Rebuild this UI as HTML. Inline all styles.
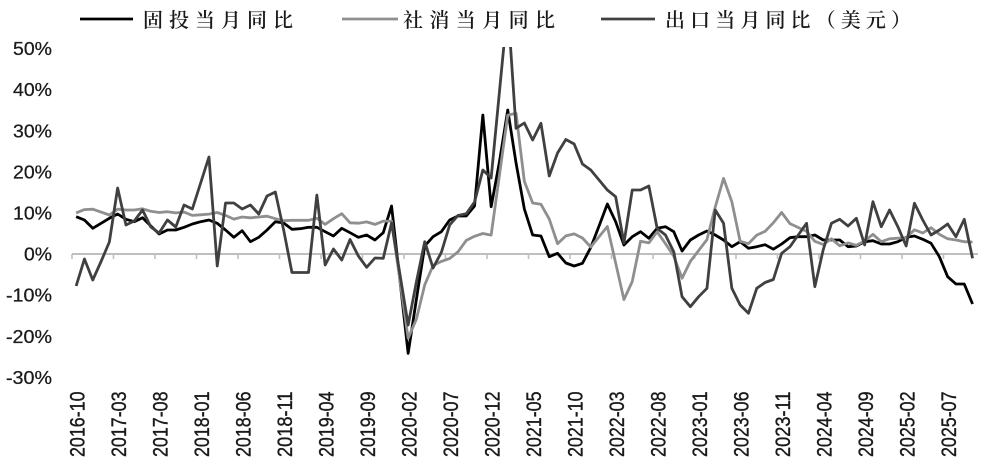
<!DOCTYPE html>
<html><head><meta charset="utf-8"><style>
html,body{margin:0;padding:0;background:#fff;}
svg{display:block;}
.yl{font-family:"Liberation Sans",sans-serif;font-size:18.5px;fill:#1a1a1a;text-anchor:end;stroke:#1a1a1a;stroke-width:0.25;}
.xl{font-family:"Liberation Sans",sans-serif;font-size:20px;fill:#1a1a1a;text-anchor:end;stroke:#1a1a1a;stroke-width:0.35;}
.lg{font-family:"Liberation Serif","Noto Serif CJK SC",serif;font-size:20px;fill:#1a1a1a;font-weight:600;}
.s{fill:none;stroke-width:2.8;stroke-linejoin:round;stroke-linecap:butt;vector-effect:non-scaling-stroke;}
</style></head><body>
<svg width="987" height="472" viewBox="0 0 987 472" xmlns="http://www.w3.org/2000/svg">
<defs><clipPath id="c"><rect x="60" y="47" width="927" height="425"/></clipPath></defs>
<!-- legend -->
<line x1="80" y1="19" x2="133" y2="19" stroke="#000" stroke-width="2.8"/>
<text class="lg" x="143" y="27" textLength="150" lengthAdjust="spacing">固投当月同比</text>
<line x1="342" y1="19" x2="398" y2="19" stroke="#8f8f8f" stroke-width="2.8"/>
<text class="lg" x="403" y="27" textLength="152" lengthAdjust="spacing">社消当月同比</text>
<line x1="601" y1="19" x2="655" y2="19" stroke="#404040" stroke-width="2.8"/>
<text class="lg" x="665" y="27" textLength="246" lengthAdjust="spacing">出口当月同比（美元）</text>
<!-- y labels -->
<text class="yl" x="52" y="55.1" textLength="39" lengthAdjust="spacingAndGlyphs">50%</text>
<text class="yl" x="52" y="96.2" textLength="39" lengthAdjust="spacingAndGlyphs">40%</text>
<text class="yl" x="52" y="137.3" textLength="39" lengthAdjust="spacingAndGlyphs">30%</text>
<text class="yl" x="52" y="178.4" textLength="39" lengthAdjust="spacingAndGlyphs">20%</text>
<text class="yl" x="52" y="219.5" textLength="39" lengthAdjust="spacingAndGlyphs">10%</text>
<text class="yl" x="52" y="260.6" textLength="28" lengthAdjust="spacingAndGlyphs">0%</text>
<text class="yl" x="52" y="301.7" textLength="46" lengthAdjust="spacingAndGlyphs">-10%</text>
<text class="yl" x="52" y="342.8" textLength="46" lengthAdjust="spacingAndGlyphs">-20%</text>
<text class="yl" x="52" y="383.9" textLength="46" lengthAdjust="spacingAndGlyphs">-30%</text>
<!-- axis -->
<line x1="72" y1="254" x2="978" y2="254" stroke="#bfbfbf" stroke-width="2"/>
<g stroke="#bfbfbf" stroke-width="1.6">
<line x1="72" y1="254" x2="72" y2="259"/><line x1="113.5" y1="254" x2="113.5" y2="259"/><line x1="155" y1="254" x2="155" y2="259"/><line x1="196.5" y1="254" x2="196.5" y2="259"/><line x1="238" y1="254" x2="238" y2="259"/><line x1="279.5" y1="254" x2="279.5" y2="259"/><line x1="321" y1="254" x2="321" y2="259"/><line x1="362.5" y1="254" x2="362.5" y2="259"/><line x1="404" y1="254" x2="404" y2="259"/><line x1="445.5" y1="254" x2="445.5" y2="259"/><line x1="487" y1="254" x2="487" y2="259"/><line x1="528.5" y1="254" x2="528.5" y2="259"/><line x1="570" y1="254" x2="570" y2="259"/><line x1="611.5" y1="254" x2="611.5" y2="259"/><line x1="653" y1="254" x2="653" y2="259"/><line x1="694.5" y1="254" x2="694.5" y2="259"/><line x1="736" y1="254" x2="736" y2="259"/><line x1="777.5" y1="254" x2="777.5" y2="259"/><line x1="819" y1="254" x2="819" y2="259"/><line x1="860.5" y1="254" x2="860.5" y2="259"/><line x1="902" y1="254" x2="902" y2="259"/><line x1="943.5" y1="254" x2="943.5" y2="259"/>
</g>
<!-- x labels -->
<g>
<text class="xl" transform="translate(84.6,391.5) rotate(-90) scale(1,1.05)" textLength="65.5" lengthAdjust="spacingAndGlyphs">2016-10</text>
<text class="xl" transform="translate(126.1,391.5) rotate(-90) scale(1,1.05)" textLength="65.5" lengthAdjust="spacingAndGlyphs">2017-03</text>
<text class="xl" transform="translate(167.6,391.5) rotate(-90) scale(1,1.05)" textLength="65.5" lengthAdjust="spacingAndGlyphs">2017-08</text>
<text class="xl" transform="translate(209.1,391.5) rotate(-90) scale(1,1.05)" textLength="65.5" lengthAdjust="spacingAndGlyphs">2018-01</text>
<text class="xl" transform="translate(250.6,391.5) rotate(-90) scale(1,1.05)" textLength="65.5" lengthAdjust="spacingAndGlyphs">2018-06</text>
<text class="xl" transform="translate(292.1,391.5) rotate(-90) scale(1,1.05)" textLength="65.5" lengthAdjust="spacingAndGlyphs">2018-11</text>
<text class="xl" transform="translate(333.6,391.5) rotate(-90) scale(1,1.05)" textLength="65.5" lengthAdjust="spacingAndGlyphs">2019-04</text>
<text class="xl" transform="translate(375.1,391.5) rotate(-90) scale(1,1.05)" textLength="65.5" lengthAdjust="spacingAndGlyphs">2019-09</text>
<text class="xl" transform="translate(416.6,391.5) rotate(-90) scale(1,1.05)" textLength="65.5" lengthAdjust="spacingAndGlyphs">2020-02</text>
<text class="xl" transform="translate(458.1,391.5) rotate(-90) scale(1,1.05)" textLength="65.5" lengthAdjust="spacingAndGlyphs">2020-07</text>
<text class="xl" transform="translate(499.6,391.5) rotate(-90) scale(1,1.05)" textLength="65.5" lengthAdjust="spacingAndGlyphs">2020-12</text>
<text class="xl" transform="translate(541.1,391.5) rotate(-90) scale(1,1.05)" textLength="65.5" lengthAdjust="spacingAndGlyphs">2021-05</text>
<text class="xl" transform="translate(582.6,391.5) rotate(-90) scale(1,1.05)" textLength="65.5" lengthAdjust="spacingAndGlyphs">2021-10</text>
<text class="xl" transform="translate(624.1,391.5) rotate(-90) scale(1,1.05)" textLength="65.5" lengthAdjust="spacingAndGlyphs">2022-03</text>
<text class="xl" transform="translate(665.6,391.5) rotate(-90) scale(1,1.05)" textLength="65.5" lengthAdjust="spacingAndGlyphs">2022-08</text>
<text class="xl" transform="translate(707.1,391.5) rotate(-90) scale(1,1.05)" textLength="65.5" lengthAdjust="spacingAndGlyphs">2023-01</text>
<text class="xl" transform="translate(748.6,391.5) rotate(-90) scale(1,1.05)" textLength="65.5" lengthAdjust="spacingAndGlyphs">2023-06</text>
<text class="xl" transform="translate(790.1,391.5) rotate(-90) scale(1,1.05)" textLength="65.5" lengthAdjust="spacingAndGlyphs">2023-11</text>
<text class="xl" transform="translate(831.6,391.5) rotate(-90) scale(1,1.05)" textLength="65.5" lengthAdjust="spacingAndGlyphs">2024-04</text>
<text class="xl" transform="translate(873.1,391.5) rotate(-90) scale(1,1.05)" textLength="65.5" lengthAdjust="spacingAndGlyphs">2024-09</text>
<text class="xl" transform="translate(914.6,391.5) rotate(-90) scale(1,1.05)" textLength="65.5" lengthAdjust="spacingAndGlyphs">2025-02</text>
<text class="xl" transform="translate(956.1,391.5) rotate(-90) scale(1,1.05)" textLength="65.5" lengthAdjust="spacingAndGlyphs">2025-07</text>
</g>
<!-- series -->
<g clip-path="url(#c)">
<g transform="translate(76.15,0) scale(8.3,1)">
<polyline class="s" stroke="#000" points="0,216.7 1,220 2,228.3 3,223.3 4,218.3 5,214 6,219.3 7,221.7 8,217.7 9,226 10,234 11,230 12,230 13,227.3 14,224 15,221.7 16,220 17,223.3 18,230 19,237.3 20,230.7 21,241.7 22,237.3 23,230 24,221.7 25,223 26,229.3 27,228.7 28,227.3 29,227.3 30,231.7 31,236 32,228.3 33,232.7 34,237.3 35,235 36,240 37,232.7 38,206 39,279.5 40,353.3 41,299 42,246 43,236.7 44,231.7 45,220 46,216 47,216 48,206 49,115 50,206.7 51,161.7 52,110 53,163 54,209 55,235 56,236 57,256.7 58,253.3 59,263 60,266 61,263.3 62,247.5 63,226 64,204 65,221.7 66,245 67,236.7 68,231.7 69,238.3 70,228.3 71,226.7 72,231.7 73,251 74,240 75,235 76,231 77,235 78,240 79,246.7 80,241.7 81,248.3 82,246.7 83,244.7 84,249.2 85,244 86,237.7 87,236.7 88,236.7 89,235 90,240 91,240 92,240 93,246.7 94,246 95,241.7 96,240.7 97,244 98,244 99,241.7 100,237.3 101,236 102,239.3 103,243.3 104,256.7 105,276.7 106,284 107,284 108,304"/>
<polyline class="s" stroke="#8f8f8f" points="0,212.9 1,209.6 2,209.2 3,212.1 4,215 5,209.2 6,210 7,210 8,208.8 9,211.3 10,212.5 11,211.7 12,212.9 13,212.1 14,215.4 15,214.8 16,214.1 17,212.5 18,215.4 19,219.1 20,217 21,217.8 22,217 23,216.2 24,218.7 25,220.7 26,220.3 27,220.3 28,220.3 29,218.2 30,224.4 31,218.7 32,213.7 33,222.8 34,223.2 35,221.9 36,224.4 37,221.1 38,221.1 39,279.7 40,338.3 41,318.9 42,284.8 43,265.5 44,261.4 45,258.5 46,251.9 47,240.4 48,236.3 49,233.5 50,235.1 51,175.1 52,115.1 53,113.4 54,181.3 55,203 56,204.3 57,219.1 58,243.7 59,235.9 60,233.9 61,238 62,247 63,236.7 64,226.5 65,263 66,299.6 67,281.5 68,241.3 69,242.9 70,231.8 71,243.7 72,256.1 73,278.2 74,261.4 75,250.5 76,239.6 77,207 78,178.4 79,201.8 80,241.3 81,243.7 82,235.1 83,231.4 84,222.8 85,212.5 86,223.6 87,227.5 88,231.4 89,241.3 90,244.5 91,238.8 92,245.8 93,242.9 94,245.4 95,240.8 96,234.3 97,241.7 98,238.8 99,238.2 100,237.6 101,229.8 102,233 103,227.7 104,234.3 105,238.8 106,240 107,241.7 108,242.1"/>
<polyline class="s" stroke="#404040" points="0,286 1,259 2,280 3,261.5 4,242 5,188 6,225 7,221 8,210 9,227 10,233 11,220 12,227 13,205 14,209 15,183 16,157 17,266 18,203 19,203 20,209 21,205 22,214 23,196 24,192 25,230 26,272.5 27,272.5 28,272.5 29,195 30,265 31,249 32,260 33,239.5 34,256 35,267.3 36,258 37,258.3 38,223 39,273.7 40,325 41,281.6 42,241.7 43,268 44,252.4 45,225 46,215.5 47,213.8 48,202 49,170 50,178 51,91.8 52,5.5 53,128.3 54,123 55,140 56,123.3 57,176 58,153 59,139.5 60,144 61,164 62,170 63,180 64,190 65,196.7 66,243 67,190 68,190 69,186 70,228.3 71,235 72,251.7 73,296.7 74,306.7 75,296.7 76,288.3 77,210 78,223.3 79,288.3 80,305 81,313.3 82,288.3 83,282.5 84,279.5 85,253.3 86,246.7 87,235 88,223.3 89,286.7 90,250 91,223.3 92,219.3 93,226 94,218.3 95,245 96,201.7 97,226.7 98,210 99,226.7 100,246 101,203.3 102,220 103,235 104,230 105,224 106,236.7 107,219.3 108,258.3"/>
</g>
</g>
</svg>
</body></html>
